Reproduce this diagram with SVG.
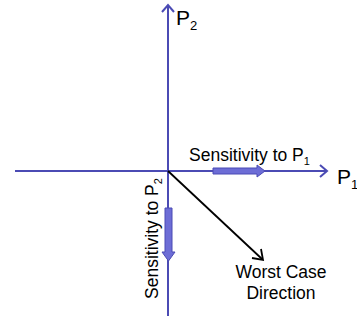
<svg xmlns="http://www.w3.org/2000/svg" width="357" height="324" viewBox="0 0 357 324">
<style>
.ax{stroke:#4B4BB4;stroke-width:2;fill:none}
.t{font-family:"Liberation Sans",Arial,sans-serif;fill:#000}
.blk{fill:#6D6DD6;stroke:#4B4BB4;stroke-width:1}
</style>
<g id="connectors">
<line class="ax" x1="15" y1="171" x2="327" y2="171"/>
<path d="M320,165 L327,171 L320,177" class="ax"/>
<line class="ax" x1="168" y1="316" x2="168" y2="5"/>
<path d="M162,12 L168,5 L174,12" class="ax"/>
<line x1="168" y1="171" x2="262" y2="259" stroke="#000" stroke-width="1.8"/>
<path d="M252,258 L263,260 L261,249" fill="none" stroke="#000" stroke-width="1.8"/>
</g>
<g id="sens-p1">
<path class="blk" d="M213,168 L257,168 L257,165 L265,171 L257,177 L257,174 L213,174 Z"/>
<text class="t" x="189" y="161" font-size="17.5">Sensitivity to P<tspan font-size="11" dy="4">1</tspan></text>
</g>
<g id="sens-p2">
<path class="blk" d="M165,208 L172,208 L172,252 L175,252 L168.5,261 L162,252 L165,252 Z"/>
<text class="t" font-size="17.5" transform="translate(158,299) rotate(-90)">Sensitivity to P<tspan font-size="11" dy="4">2</tspan></text>
</g>
<g id="p1-label">
<text class="t" x="337" y="184" font-size="21">P<tspan font-size="13" dy="5">1</tspan></text>
</g>
<g id="p2-label">
<text class="t" x="176" y="25" font-size="21">P<tspan font-size="13" dy="5">2</tspan></text>
</g>
<g id="worst-case">
<text class="t" x="281" y="278" font-size="17.5" text-anchor="middle">Worst Case</text>
<text class="t" x="281" y="299" font-size="17.5" text-anchor="middle">Direction</text>
</g>
</svg>
